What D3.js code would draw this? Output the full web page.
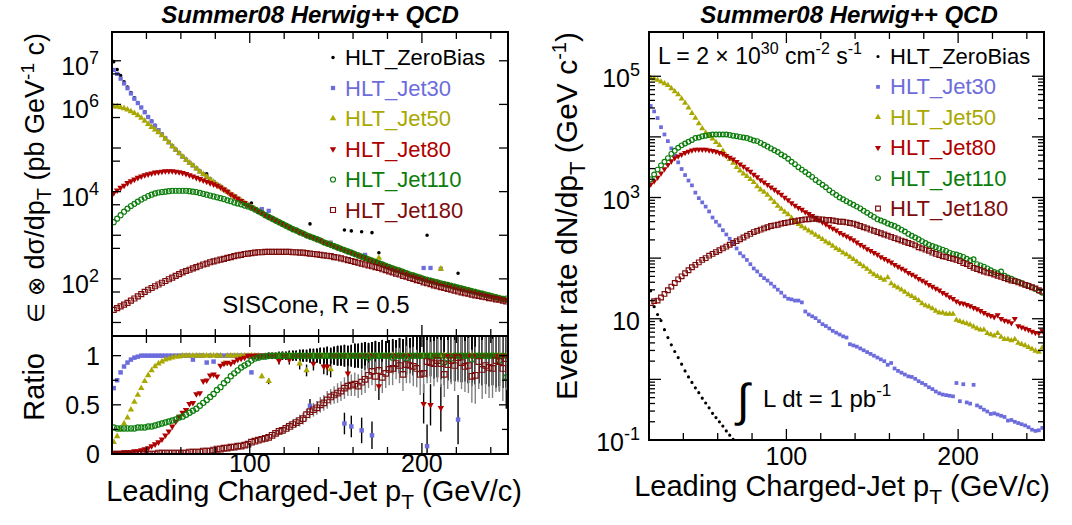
<!DOCTYPE html>
<html>
<head>
<meta charset="utf-8">
<title>Leading charged-jet pT - Summer08 Herwig++ QCD</title>
<script src="https://cdnjs.cloudflare.com/ajax/libs/d3/7.8.5/d3.min.js"></script>
<style>
    body { margin: 0; background: #ffffff; }
    svg text { font-family: "Liberation Sans", Arial, Helvetica, sans-serif; fill: #000; }
</style>
</head>
<body>
<div id="chart"></div>
<script>

// ---------------------------------------------------------------
// Data. Bins are 2 GeV/c wide.
// Log panels hold log10 of the value, null = empty bin.
// ---------------------------------------------------------------
var ptBins = [21,23,25,27,29,31,33,35,37,39,
    41,43,45,47,49,51,53,55,57,59,
    61,63,65,67,69,71,73,75,77,79,
    81,83,85,87,89,91,93,95,97,99,
    101,103,105,107,109,111,113,115,117,119,
    121,123,125,127,129,131,133,135,137,139,
    141,143,145,147,149,151,153,155,157,159,
    161,163,165,167,169,171,173,175,177,179,
    181,183,185,187,189,191,193,195,197,199,
    201,203,205,207,209,211,213,215,217,219,
    221,223,225,227,229,231,233,235,237,239,
    241,243,245,247,249];

var triggerNames = ["HLT_ZeroBias", "HLT_Jet30", "HLT_Jet50", "HLT_Jet80", "HLT_Jet110", "HLT_Jet180"];

// left, top: eff x dsigma/dpT  (log10 of pb GeV^-1 c)
var xsecZeroBias = [6.98,6.80,6.66,6.52,6.40,6.27,6.15,6.04,5.93,5.83,
    5.72,5.62,5.52,5.42,5.32,5.23,5.14,5.05,4.97,4.89,
    4.81,4.74,4.67,4.61,4.54,4.47,4.41,4.41,4.29,4.23,
    4.17,4.12,4.06,4.01,3.95,3.90,3.85,3.80,3.75,3.70,
    3.74,null,null,null,null,null,null,null,null,null,
    null,null,null,null,null,null,null,3.26,null,null,
    null,null,null,null,null,null,null,3.12,null,3.10,
    null,null,3.08,null,null,3.06,null,2.60,null,null,
    null,null,null,null,null,null,null,null,null,null,
    null,3.00,null,null,null,null,null,null,null,null,
    2.13,null,null,null,null,null,null,null,null,null,
    null,null,null,null,null];
var xsecJet30 = [6.79,6.70,6.59,6.48,6.37,6.25,6.13,6.03,5.93,5.82,
    5.71,5.61,5.51,5.41,5.31,5.22,5.13,5.04,4.96,4.88,
    4.80,4.73,4.66,4.60,4.53,4.46,4.40,4.34,4.28,4.22,
    4.16,4.11,4.05,4.00,3.94,3.89,3.84,3.79,3.74,3.70,
    3.64,3.60,3.55,3.60,3.46,3.56,3.38,3.34,3.30,3.26,
    3.22,3.18,3.14,3.11,3.07,3.04,3.00,2.97,2.94,2.91,
    2.88,2.84,2.81,2.83,2.75,2.72,2.69,2.66,2.63,2.60,
    2.57,2.54,2.51,2.55,2.45,2.42,2.39,2.36,2.33,2.30,
    2.27,2.24,2.21,2.19,2.16,2.13,2.10,2.08,2.05,2.03,
    2.25,1.98,2.25,1.94,1.92,2.23,1.88,1.86,1.84,1.82,
    1.80,1.78,1.76,1.74,1.72,1.70,1.68,1.66,1.64,1.62,
    1.60,1.58,1.56,1.54,1.52];
var xsecJet50 = [5.95,5.95,5.93,5.91,5.88,5.84,5.80,5.75,5.69,5.62,
    5.55,5.48,5.42,5.36,5.29,5.21,5.13,5.04,4.96,4.88,
    4.80,4.73,4.66,4.60,4.53,4.46,4.40,4.34,4.28,4.22,
    4.16,4.11,4.05,4.00,3.94,3.89,3.84,3.79,3.74,3.69,
    3.64,3.60,3.55,3.51,3.46,3.42,3.38,3.34,3.30,3.26,
    3.22,3.18,3.14,3.11,3.07,3.04,3.00,2.97,2.94,2.91,
    2.88,2.84,2.81,2.80,2.75,2.72,2.69,2.66,2.63,2.60,
    2.57,2.54,2.51,2.48,2.45,2.42,2.39,2.48,2.33,2.30,
    2.27,2.24,2.21,2.19,2.16,2.13,2.10,2.08,2.05,2.03,
    2.00,1.98,1.96,1.94,1.92,2.23,1.88,1.86,1.84,1.82,
    1.80,1.78,1.76,1.74,1.72,1.70,1.68,1.66,1.64,1.62,
    1.60,1.58,1.56,1.54,1.52];
var xsecJet80 = [3.97,4.03,4.09,4.14,4.20,4.24,4.28,4.32,4.35,4.38,
    4.40,4.42,4.44,4.45,4.46,4.47,4.47,4.47,4.46,4.45,
    4.43,4.41,4.38,4.35,4.32,4.29,4.26,4.23,4.20,4.17,
    4.14,4.10,4.05,4.00,3.94,3.89,3.84,3.79,3.74,3.69,
    3.64,3.60,3.55,3.51,3.46,3.42,3.38,3.34,3.30,3.26,
    3.22,3.18,3.14,3.11,3.07,3.04,3.00,2.97,2.94,2.91,
    2.88,2.84,2.81,2.78,2.75,2.72,2.69,2.66,2.63,2.60,
    2.57,2.54,2.51,2.48,2.45,2.42,2.39,2.36,2.33,2.30,
    2.27,2.24,2.21,2.19,2.16,2.13,2.10,2.08,2.05,2.03,
    2.00,1.98,1.96,1.94,1.92,1.90,1.88,1.86,1.84,1.82,
    1.80,1.78,1.76,1.74,1.72,1.70,1.68,1.66,1.64,1.62,
    1.60,1.58,1.56,1.54,1.52];
var xsecJet110 = [3.30,3.38,3.46,3.54,3.61,3.67,3.72,3.77,3.82,3.86,
    3.90,3.93,3.96,3.98,3.99,4.00,4.01,4.02,4.02,4.02,
    4.02,4.02,4.01,4.00,3.99,3.97,3.95,3.93,3.91,3.89,
    3.87,3.85,3.83,3.80,3.78,3.75,3.73,3.71,3.68,3.66,
    3.63,3.59,3.55,3.51,3.46,3.42,3.38,3.34,3.30,3.26,
    3.22,3.18,3.14,3.11,3.07,3.04,3.00,2.97,2.94,2.91,
    2.88,2.84,2.81,2.78,2.75,2.72,2.69,2.66,2.63,2.60,
    2.57,2.54,2.51,2.48,2.45,2.42,2.39,2.36,2.33,2.30,
    2.27,2.24,2.21,2.19,2.16,2.13,2.10,2.08,2.05,2.03,
    2.00,1.98,1.96,1.94,1.92,1.90,1.88,1.86,1.84,1.82,
    1.80,1.78,1.76,1.74,1.72,1.70,1.68,1.66,1.64,1.62,
    1.60,1.58,1.56,1.54,1.55];
var xsecJet180 = [1.29,1.33,1.37,1.41,1.45,1.50,1.55,1.60,1.65,1.70,
    1.75,1.79,1.83,1.87,1.91,1.95,1.99,2.03,2.07,2.11,
    2.15,2.18,2.21,2.24,2.27,2.30,2.33,2.35,2.38,2.40,
    2.42,2.44,2.46,2.48,2.50,2.52,2.54,2.55,2.57,2.58,
    2.59,2.60,2.61,2.61,2.62,2.62,2.62,2.62,2.62,2.62,
    2.62,2.62,2.61,2.61,2.60,2.60,2.59,2.58,2.57,2.56,
    2.55,2.54,2.53,2.52,2.50,2.49,2.47,2.45,2.43,2.41,
    2.39,2.37,2.35,2.33,2.31,2.29,2.27,2.25,2.22,2.20,
    2.17,2.15,2.12,2.10,2.07,2.05,2.02,2.00,1.97,1.95,
    1.92,1.90,1.88,1.85,1.83,1.81,1.79,1.77,1.75,1.73,
    1.71,1.69,1.67,1.66,1.64,1.62,1.61,1.59,1.58,1.56,
    1.55,1.53,1.52,1.50,1.48];

// left, bottom: ratio
var ratioJet30 = [0.67,0.75,0.83,0.89,0.93,0.96,0.98,0.99,1.00,1.00,
    1.00,1.00,1.00,1.00,1.00,1.00,1.00,1.00,1.00,1.00,
    1.00,1.00,1.00,0.96,1.00,1.00,1.00,0.93,1.00,0.94,
    1.00,1.00,1.00,1.00,1.00,1.00,1.00,1.00,1.00,1.00,
    0.83,1.00,1.00,1.00,1.00,1.00,1.00,1.00,1.00,1.00,
    1.00,1.00,1.00,1.00,1.00,1.00,1.00,0.49,1.00,1.00,
    1.00,1.00,1.00,1.00,1.00,1.00,1.00,0.31,1.00,0.28,
    1.00,1.00,0.24,1.00,1.00,0.19,1.00,1.00,1.00,1.00,
    1.00,1.00,1.00,1.00,1.00,1.00,1.00,1.00,1.00,1.00,
    1.00,0.08,1.00,1.00,1.00,1.00,1.00,1.00,1.00,1.00,
    0.35,1.00,1.00,1.00,1.00,1.00,1.00,1.00,1.00,1.00,
    1.00,1.00,1.00,1.00,1.00];
var ratioJet50 = [0.12,0.18,0.25,0.31,0.37,0.45,0.53,0.60,0.67,0.74,
    0.80,0.85,0.89,0.92,0.94,0.96,0.97,0.98,0.99,0.99,
    1.00,1.00,1.00,1.00,1.00,1.00,1.00,1.00,1.00,1.00,
    1.00,1.00,0.92,1.00,1.00,1.00,1.00,1.00,1.00,1.00,
    1.00,1.00,1.00,0.79,1.00,0.74,1.00,1.00,1.00,1.00,
    1.00,1.00,1.00,1.00,0.92,1.00,0.85,1.00,1.00,1.00,
    1.00,1.00,1.00,0.86,1.00,1.00,1.00,1.00,1.00,1.00,
    1.00,1.00,1.00,1.00,1.00,1.00,1.00,1.00,1.00,1.00,
    1.00,1.00,1.00,1.00,1.00,1.00,1.00,1.00,1.00,1.00,
    1.00,1.00,1.00,1.00,1.00,1.00,1.00,1.00,1.00,1.00,
    1.00,1.00,1.00,1.00,1.00,1.00,1.00,1.00,1.00,1.00,
    1.00,1.00,1.00,1.00,1.00];
var ratioJet80 = [0.01,0.01,0.01,0.02,0.02,0.02,0.03,0.03,0.04,0.05,
    0.06,0.08,0.10,0.12,0.15,0.19,0.23,0.28,0.33,0.38,
    0.42,0.45,0.51,0.52,0.61,0.62,0.74,0.75,0.80,0.81,
    0.79,0.90,0.92,0.93,0.92,0.94,0.96,0.97,0.98,1.00,
    1.00,1.00,1.00,1.00,1.00,1.00,1.00,1.00,0.95,1.00,
    1.00,0.96,1.00,1.00,1.00,1.00,1.00,1.00,0.92,1.00,
    1.00,0.89,0.89,1.00,1.00,1.00,1.00,1.00,0.82,1.00,
    1.00,1.00,1.00,1.00,1.00,1.00,1.00,0.69,1.00,1.00,
    1.00,1.00,1.00,1.00,1.00,1.00,1.00,1.00,1.00,1.00,
    0.51,1.00,0.50,1.00,1.00,0.47,1.00,1.00,1.00,1.00,
    1.00,1.00,1.00,1.00,1.00,1.00,1.00,1.00,1.00,1.00,
    1.00,1.00,1.00,1.00,1.00];
var ratioJet110 = [0.27,0.26,0.26,0.26,0.26,0.26,0.26,0.27,0.27,0.27,
    0.28,0.28,0.29,0.30,0.31,0.32,0.33,0.34,0.35,0.37,
    0.38,0.40,0.42,0.44,0.46,0.49,0.52,0.55,0.58,0.61,
    0.65,0.68,0.72,0.75,0.79,0.82,0.85,0.88,0.90,0.92,
    0.95,0.97,0.98,0.99,0.99,1.00,1.00,1.00,1.00,1.00,
    1.00,1.00,1.00,1.00,1.00,1.00,1.00,1.00,1.00,1.00,
    1.00,1.00,1.00,1.00,1.00,1.00,1.00,1.00,1.00,1.00,
    1.00,1.00,1.00,1.00,0.98,1.00,1.00,1.00,1.00,1.00,
    1.00,0.98,1.00,1.00,1.00,0.97,1.00,1.00,1.00,1.00,
    1.00,1.00,1.00,1.00,1.00,1.00,0.93,1.00,0.97,1.00,
    1.00,1.00,1.00,1.00,0.96,1.00,1.00,1.00,1.00,1.00,
    1.00,1.00,0.95,1.00,0.78];
var ratioJet180 = [0.00,0.00,0.00,0.00,0.00,0.00,0.00,0.00,0.00,0.00,
    0.00,0.00,0.00,0.01,0.01,0.01,0.01,0.01,0.01,0.01,
    0.01,0.01,0.02,0.02,0.02,0.02,0.03,0.03,0.03,0.04,
    0.05,0.05,0.06,0.06,0.07,0.07,0.08,0.08,0.09,0.10,
    0.12,0.13,0.14,0.15,0.16,0.17,0.19,0.21,0.23,0.24,
    0.26,0.28,0.30,0.32,0.34,0.36,0.40,0.43,0.45,0.47,
    0.50,0.52,0.55,0.58,0.60,0.62,0.64,0.67,0.69,0.70,
    0.71,0.69,0.73,0.76,0.80,0.84,0.79,0.85,0.78,0.82,
    0.86,0.87,0.92,0.90,0.81,0.91,0.90,0.89,0.87,0.81,
    0.82,0.94,0.93,0.92,0.95,0.92,0.81,0.91,0.95,0.90,
    0.98,0.93,0.89,0.90,0.79,0.80,0.94,0.86,0.90,0.88,
    0.87,0.95,0.94,0.87,0.97];
// half length of the ratio error bars
var ratioErr = [0,0,0,0,0,0,0,0,0,0,
    0,0,0,0,0,0,0,0,0,0,
    0,0,0,0,0,0,0,0,0,0,
    0,0,0,0,0,0,0,0,0,0,
    0.00,0.01,0.02,0.02,0.02,0.03,0.03,0.03,0.04,0.04,
    0.04,0.05,0.05,0.05,0.06,0.06,0.06,0.07,0.07,0.07,
    0.08,0.08,0.09,0.08,0.09,0.10,0.10,0.11,0.10,0.11,
    0.12,0.12,0.13,0.14,0.13,0.14,0.15,0.14,0.16,0.15,
    0.16,0.17,0.16,0.18,0.17,0.19,0.18,0.20,0.19,0.21,
    0.20,0.22,0.21,0.23,0.22,0.24,0.23,0.25,0.24,0.26,
    0.25,0.27,0.26,0.28,0.27,0.29,0.28,0.30,0.29,0.31,
    0.30,0.32,0.31,0.33,0.32];

// right: event rate dN/dpT  (log10 of GeV^-1 c)
var rateZeroBias = [1.46,1.20,1.07,0.97,0.82,0.69,0.57,0.46,0.36,0.25,
    0.14,0.04,-0.05,-0.14,-0.22,-0.31,-0.39,-0.47,-0.56,-0.63,
    -0.70,-0.77,-0.85,-0.92,-0.99,null,null,null,null,null,
    null,null,null,null,null,null,null,null,null,null,
    null,null,null,null,null,null,null,null,null,null,
    null,null,null,null,null,null,null,null,null,null,
    null,null,null,null,null,null,null,null,null,null,
    null,null,null,null,null,null,null,null,null,null,
    null,null,null,null,null,null,null,null,null,null,
    null,null,null,null,null,null,null,null,null,null,
    null,null,null,null,null,null,null,null,null,null,
    null,null,null,null,null];
var rateJet30 = [4.51,4.42,4.31,4.16,4.04,3.93,3.81,3.69,3.58,3.47,
    3.37,3.28,3.20,3.08,2.99,2.92,2.85,2.77,2.67,2.60,
    2.54,2.46,2.39,2.32,2.25,2.16,2.08,2.03,1.97,1.90,
    1.83,1.78,1.72,1.67,1.63,1.58,1.53,1.48,1.43,1.37,
    1.33,1.32,1.30,1.30,1.27,1.12,1.07,1.04,1.01,0.96,
    0.91,0.88,0.84,0.80,0.77,0.74,0.71,0.69,0.58,0.56,
    0.54,0.51,0.48,0.45,0.42,0.39,0.36,0.33,0.30,0.24,
    0.27,0.18,0.14,0.11,0.08,0.05,0.04,0.01,-0.03,-0.06,
    -0.09,-0.13,-0.16,-0.20,-0.23,-0.25,-0.26,-0.27,-0.28,-0.06,
    -0.36,-0.08,-0.38,-0.40,-0.09,-0.43,-0.46,-0.50,-0.53,-0.57,
    -0.56,-0.58,-0.60,-0.62,-0.68,-0.67,-0.70,-0.72,-0.74,-0.76,
    -0.79,-0.83,-0.85,-0.84,-0.80];
var rateJet50 = [4.97,4.96,4.94,4.91,4.88,4.85,4.80,4.75,4.70,4.63,
    4.56,4.48,4.39,4.31,4.22,4.14,4.07,4.02,3.97,3.91,
    3.86,3.77,3.69,3.63,3.57,3.50,3.44,3.39,3.35,3.30,
    3.25,3.18,3.13,3.09,3.04,2.98,2.92,2.86,2.81,2.76,
    2.72,2.66,2.61,2.56,2.52,2.49,2.45,2.42,2.38,2.35,
    2.31,2.27,2.24,2.20,2.16,2.13,2.09,2.06,2.02,1.98,
    1.94,1.90,1.86,1.82,1.77,1.73,1.70,1.67,1.64,1.68,
    1.58,1.54,1.51,1.48,1.44,1.40,1.37,1.34,1.30,1.25,
    1.22,1.20,1.17,1.13,1.10,1.10,1.08,1.08,1.08,0.98,
    0.96,0.94,0.92,0.90,0.87,0.84,0.82,0.82,0.76,0.74,
    0.72,0.76,0.70,0.66,0.66,0.64,0.66,0.60,0.58,0.56,
    0.53,0.50,0.47,0.45,0.52];
var rateJet80 = [3.22,3.27,3.33,3.40,3.47,3.54,3.60,3.65,3.68,3.71,
    3.74,3.76,3.78,3.79,3.79,3.79,3.79,3.78,3.77,3.76,
    3.74,3.72,3.69,3.66,3.63,3.59,3.55,3.51,3.47,3.43,
    3.38,3.34,3.29,3.25,3.21,3.17,3.13,3.09,3.05,3.00,
    2.96,2.91,2.87,2.83,2.80,2.76,2.73,2.70,2.66,2.63,
    2.59,2.56,2.52,2.49,2.46,2.42,2.39,2.36,2.33,2.30,
    2.26,2.22,2.19,2.15,2.12,2.09,2.06,2.02,1.99,1.96,
    1.93,1.89,1.86,1.83,1.80,1.76,1.73,1.70,1.66,1.63,
    1.60,1.56,1.53,1.50,1.47,1.43,1.40,1.36,1.33,1.29,
    1.26,1.25,1.23,1.21,1.18,1.16,1.13,1.10,1.07,1.05,
    1.03,1.06,1.00,0.97,0.96,0.93,1.00,0.88,0.86,0.84,
    0.82,0.79,0.77,0.76,0.80];
var rateJet110 = [3.30,3.38,3.46,3.53,3.59,3.65,3.72,3.77,3.82,3.86,
    3.89,3.92,3.95,3.98,3.99,4.01,4.02,4.03,4.04,4.04,
    4.04,4.04,4.04,4.03,4.02,4.01,4.00,3.99,3.98,3.96,
    3.94,3.93,3.90,3.87,3.84,3.81,3.78,3.75,3.71,3.68,
    3.64,3.59,3.55,3.50,3.46,3.42,3.38,3.34,3.29,3.25,
    3.21,3.17,3.12,3.08,3.04,3.00,2.97,2.94,2.91,2.88,
    2.85,2.82,2.78,2.75,2.71,2.68,2.64,2.62,2.60,2.57,
    2.55,2.53,2.50,2.47,2.44,2.40,2.37,2.34,2.31,2.28,
    2.25,2.22,2.20,2.18,2.16,2.14,2.12,2.09,2.07,2.06,
    2.04,2.02,1.99,1.96,1.98,1.90,1.88,1.86,1.83,1.80,
    1.77,1.75,1.78,1.71,1.68,1.66,1.63,1.61,1.59,1.56,
    1.55,1.52,1.49,1.46,1.43];
var rateJet180 = [1.26,1.29,1.30,1.35,1.41,1.47,1.53,1.59,1.65,1.70,
    1.75,1.80,1.85,1.89,1.93,1.97,2.00,2.04,2.07,2.10,
    2.13,2.16,2.19,2.22,2.25,2.28,2.31,2.34,2.37,2.40,
    2.43,2.45,2.47,2.49,2.51,2.53,2.54,2.55,2.57,2.58,
    2.59,2.60,2.61,2.62,2.63,2.64,2.64,2.65,2.65,2.64,
    2.64,2.63,2.63,2.62,2.61,2.60,2.60,2.59,2.58,2.57,
    2.55,2.53,2.51,2.49,2.47,2.45,2.43,2.41,2.39,2.37,
    2.35,2.33,2.31,2.29,2.27,2.25,2.23,2.21,2.18,2.16,
    2.14,2.12,2.09,2.07,2.05,2.03,2.02,2.00,1.99,1.97,
    1.95,1.92,1.90,1.87,1.84,1.82,1.80,1.78,1.76,1.75,
    1.73,1.71,1.69,1.67,1.65,1.63,1.62,1.60,1.58,1.56,
    1.54,1.52,1.50,1.47,1.45];

// axis ticks and labels
var xTickValues = [20,40,60,80,100,120,140,160,180,200,220,240];
var xTickLabels = [100, 200];
var xsecDecades = [1e1,1e2,1e3,1e4,1e5,1e6,1e7];
var xsecHalfDecades = [5e1,5e2,5e3,5e4,5e5,5e6];
var xsecTickExps = [7, 6, 4, 2];
var ratioTickValues = [0, 0.25, 0.5, 0.75, 1];
var ratioTickLabels = [0, 0.5, 1];
var rateDecades = [1e-1,1e0,1e1,1e2,1e3,1e4,1e5];
var rateTickExps = [5, 3, 1, -1];


// ---------------------------------------------------------------
// Styles
// ---------------------------------------------------------------
var triggerColors = ["#000000", "#6c6cdd", "#a8a800", "#b00000", "#0b7d0b", "#7d0c0c"];
var triggerShapes = ["dot", "square", "triangle", "triangleDown", "circle", "openSquare"];

var sizesLeft  = { dot: 10, square: 18, triangle: 18, triangleDown: 18, circle: 20, openSquare: 25 };
var sizesRatio = { dot: 10, square: 20, triangle: 18, triangleDown: 18, circle: 22, openSquare: 31 };
var sizesRight = { dot: 8,  square: 14, triangle: 16, triangleDown: 16, circle: 18, openSquare: 22 };

var fromLog = function(v) { return Math.pow(10, v); };
var asIs = function(v) { return v; };

var svg = d3.select("#chart").append("svg")
    .attr("width", 1072)
    .attr("height", 525)
    .style("display", "block");

svg.append("rect")
    .attr("width", 1072)
    .attr("height", 525)
    .attr("fill", "#ffffff");


// ---------------------------------------------------------------
// Helpers
// ---------------------------------------------------------------
function addMarkers(g, pts, shape, color, sizes) {
    var open = (shape === "circle" || shape === "openSquare");
    var type = d3.symbolCircle;
    if (shape === "square" || shape === "openSquare") type = d3.symbolSquare;
    if (shape === "triangle" || shape === "triangleDown") type = d3.symbolTriangle;
    var path = d3.symbol().type(type).size(sizes[shape])();

    g.selectAll(null)
        .data(pts)
        .enter().append("path")
        .attr("d", path)
        .attr("transform", function(d) {
            return "translate(" + d.x + "," + d.y + ")" + (shape === "triangleDown" ? " rotate(180)" : "");
        })
        .attr("fill", open ? "none" : color)
        .attr("stroke", open ? color : "none")
        .attr("stroke-width", open ? 1.15 : 0);
}

function seriesPoints(values, x, y, conv) {
    var pts = [];
    values.forEach(function(v, i) {
        if (v === null) return;
        pts.push({ x: x(ptBins[i]), y: y(conv(v)), v: v, i: i });
    });
    return pts;
}

function frame(g, x0, y0, x1, y1) {
    g.append("rect")
        .attr("x", x0)
        .attr("y", y0)
        .attr("width", x1 - x0)
        .attr("height", y1 - y0)
        .attr("fill", "none")
        .attr("stroke", "#000")
        .attr("stroke-width", 2);
}

function tick(g, x1, y1, x2, y2) {
    g.append("line")
        .attr("x1", x1).attr("y1", y1)
        .attr("x2", x2).attr("y2", y2)
        .attr("stroke", "#000")
        .attr("stroke-width", 1.3);
}

function xTicks(g, x, yTop, yBot) {
    xTickValues.forEach(function(t) {
        var len = xTickLabels.indexOf(t) >= 0 ? 11 : 7;
        tick(g, x(t), yBot, x(t), yBot - len);
        tick(g, x(t), yTop, x(t), yTop + len);
    });
}

function powerLabel(g, x, y, exp) {
    var t = g.append("text")
        .attr("x", x)
        .attr("y", y)
        .attr("text-anchor", "end")
        .style("font-size", "25px");
    t.append("tspan").text("10");
    if (exp !== 1) {
        t.append("tspan")
            .attr("dy", -11)
            .style("font-size", "18px")
            .text(exp < 0 ? "-" + (-exp) : exp);
    }
}

function clipRect(id, x0, y0, x1, y1) {
    svg.append("clipPath")
        .attr("id", id)
        .append("rect")
        .attr("x", x0).attr("y", y0)
        .attr("width", x1 - x0).attr("height", y1 - y0);
}

function legend(g, x, y0, dy, sizes) {
    triggerNames.forEach(function(name, k) {
        var yb = y0 + k * dy;
        addMarkers(g, [{ x: x, y: yb - 7.5 }], triggerShapes[k], triggerColors[k], sizes);
        g.append("text")
            .attr("x", x + 12)
            .attr("y", yb)
            .style("font-size", "22px")
            .style("fill", triggerColors[k])
            .text(name);
    });
}

function ptTitle(g, xEnd, y) {
    var t = g.append("text")
        .attr("x", xEnd)
        .attr("y", y)
        .attr("text-anchor", "end")
        .style("font-size", "29px");
    t.append("tspan").text("Leading Charged-Jet p");
    t.append("tspan").attr("dy", 8).style("font-size", "21px").text("T");
    t.append("tspan").attr("dy", -8).text(" (GeV/c)");
}

function panelTitle(g, xMid) {
    g.append("text")
        .attr("x", xMid)
        .attr("y", 23)
        .attr("text-anchor", "middle")
        .style("font-size", "24px")
        .style("font-weight", "bold")
        .style("font-style", "italic")
        .text("Summer08 Herwig++ QCD");
}


// ---------------------------------------------------------------
// Left: cross section (top) and ratio (bottom)
// ---------------------------------------------------------------
var L = { x0: 112, x1: 508, y0: 32, ymid: 336, y1: 454 };

var xLeft = d3.scaleLinear()
    .domain([20, 250])
    .range([L.x0, L.x1]);

var yXsec = d3.scaleLog()
    .domain([Math.pow(10, 0.69), Math.pow(10, 7.66)])
    .range([L.ymid, L.y0]);

var yRatio = d3.scaleLinear()
    .domain([0, 1.2])
    .range([L.y1, L.ymid]);

var gLeft = svg.append("g");

panelTitle(gLeft, 310);

clipRect("clipXsec", L.x0, L.y0, L.x1, L.ymid);
clipRect("clipRatio", L.x0, L.ymid, L.x1, L.y1);

var xsecSeries = [xsecZeroBias, xsecJet30, xsecJet50, xsecJet80, xsecJet110, xsecJet180];
var gXsec = gLeft.append("g").attr("clip-path", "url(#clipXsec)");
xsecSeries.forEach(function(vals, k) {
    addMarkers(gXsec, seriesPoints(vals, xLeft, yXsec, fromLog), triggerShapes[k], triggerColors[k], sizesLeft);
});

// ratio: error bars first, then markers
var ratioSeries = [null, ratioJet30, ratioJet50, ratioJet80, ratioJet110, ratioJet180];
var gRatio = gLeft.append("g").attr("clip-path", "url(#clipRatio)");
ratioSeries.forEach(function(vals, k) {
    if (!vals) return;
    var pts = seriesPoints(vals, xLeft, yRatio, asIs);
    gRatio.selectAll(null)
        .data(pts.filter(function(d) { return ratioErr[d.i] > 0; }))
        .enter().append("line")
        .attr("x1", function(d) { return d.x; })
        .attr("x2", function(d) { return d.x; })
        .attr("y1", function(d) { return yRatio(d.v - ratioErr[d.i]); })
        .attr("y2", function(d) { return yRatio(d.v + ratioErr[d.i]); })
        .attr("stroke", k === 5 ? "#808080" : "#000")
        .attr("stroke-width", 1.4);
});
ratioSeries.forEach(function(vals, k) {
    if (!vals) return;
    addMarkers(gRatio, seriesPoints(vals, xLeft, yRatio, asIs), triggerShapes[k], triggerColors[k], sizesRatio);
});

frame(gLeft, L.x0, L.y0, L.x1, L.ymid);
frame(gLeft, L.x0, L.ymid, L.x1, L.y1);
xTicks(gLeft, xLeft, L.y0, L.ymid);
xTicks(gLeft, xLeft, L.ymid, L.y1);

xsecDecades.forEach(function(v) {
    tick(gLeft, L.x0, yXsec(v), L.x0 + 9, yXsec(v));
    tick(gLeft, L.x1, yXsec(v), L.x1 - 9, yXsec(v));
});
xsecHalfDecades.forEach(function(v) {
    tick(gLeft, L.x0, yXsec(v), L.x0 + 8, yXsec(v));
});
xsecTickExps.forEach(function(e) {
    powerLabel(gLeft, 99, yXsec(Math.pow(10, e)) + 14, e);
});

ratioTickValues.forEach(function(v) {
    var len = ratioTickLabels.indexOf(v) >= 0 ? 9 : 6;
    tick(gLeft, L.x0, yRatio(v), L.x0 + len, yRatio(v));
    tick(gLeft, L.x1, yRatio(v), L.x1 - len, yRatio(v));
});
ratioTickLabels.forEach(function(v) {
    gLeft.append("text")
        .attr("x", 100)
        .attr("y", yRatio(v) + 9)
        .attr("text-anchor", "end")
        .style("font-size", "25px")
        .text(v);
});

xTickLabels.forEach(function(v) {
    gLeft.append("text")
        .attr("x", xLeft(v))
        .attr("y", 472)
        .attr("text-anchor", "middle")
        .style("font-size", "25px")
        .text(v);
});

legend(gLeft, 333, 65, 30.5, sizesLeft);

gLeft.append("text")
    .attr("x", 316)
    .attr("y", 313)
    .attr("text-anchor", "middle")
    .style("font-size", "24px")
    .text("SISCone, R = 0.5");

// axis titles
ptTitle(gLeft, 522, 501);

var yTitleL = gLeft.append("text")
    .attr("transform", "translate(44,33) rotate(-90)")
    .attr("text-anchor", "end")
    .style("font-size", "27px");
yTitleL.append("tspan").style("font-size", "23px").text("\u2208");
yTitleL.append("tspan").text(" ");
yTitleL.append("tspan").style("font-size", "23px").text("\u2297");
yTitleL.append("tspan").text(" d\u03c3/dp");
yTitleL.append("tspan").attr("dy", 7).style("font-size", "20px").text("T");
yTitleL.append("tspan").attr("dy", -7).text("  (pb GeV");
yTitleL.append("tspan").attr("dy", -10).style("font-size", "19px").text("-1");
yTitleL.append("tspan").attr("dy", 10).text(" c)");

gLeft.append("text")
    .attr("transform", "translate(44,353) rotate(-90)")
    .attr("text-anchor", "end")
    .style("font-size", "29px")
    .text("Ratio");


// ---------------------------------------------------------------
// Right: event rate
// ---------------------------------------------------------------
var R = { x0: 649, x1: 1044, y0: 32, y1: 440 };

var xRight = d3.scaleLinear()
    .domain([20, 250])
    .range([R.x0, R.x1]);

var yRate = d3.scaleLog()
    .domain([0.1, Math.pow(10, 5.73)])
    .range([R.y1, R.y0]);

var gRight = svg.append("g");

panelTitle(gRight, 849);

clipRect("clipRate", R.x0, R.y0, R.x1, R.y1);

var rateSeries = [rateZeroBias, rateJet30, rateJet50, rateJet80, rateJet110, rateJet180];
var gRate = gRight.append("g").attr("clip-path", "url(#clipRate)");
rateSeries.forEach(function(vals, k) {
    addMarkers(gRate, seriesPoints(vals, xRight, yRate, fromLog), triggerShapes[k], triggerColors[k], sizesRight);
});

frame(gRight, R.x0, R.y0, R.x1, R.y1);
xTicks(gRight, xRight, R.y0, R.y1);

rateDecades.forEach(function(v) {
    tick(gRight, R.x0, yRate(v), R.x0 + 12, yRate(v));
    tick(gRight, R.x1, yRate(v), R.x1 - 12, yRate(v));
    if (v >= 1e5) return;
    for (var m = 2; m <= 9; m++) {
        var ym = yRate(v * m);
        if (ym < R.y0) break;
        tick(gRight, R.x0, ym, R.x0 + 6, ym);
        tick(gRight, R.x1, ym, R.x1 - 6, ym);
    }
});
rateTickExps.forEach(function(e) {
    powerLabel(gRight, 640, yRate(Math.pow(10, e)) + 11, e);
});

xTickLabels.forEach(function(v) {
    gRight.append("text")
        .attr("x", xRight(v))
        .attr("y", 465)
        .attr("text-anchor", "middle")
        .style("font-size", "25px")
        .text(v);
});

legend(gRight, 878, 64, 30.4, sizesRight);

var lumi = gRight.append("text")
    .attr("x", 658)
    .attr("y", 64)
    .style("font-size", "23px");
lumi.append("tspan").text("L = 2 \u00d7 10");
lumi.append("tspan").attr("dy", -10).style("font-size", "16px").text("30");
lumi.append("tspan").attr("dy", 10).text(" cm");
lumi.append("tspan").attr("dy", -10).style("font-size", "16px").text("-2");
lumi.append("tspan").attr("dy", 10).text(" s");
lumi.append("tspan").attr("dy", -10).style("font-size", "16px").text("-1");

gRight.append("text")
    .attr("x", 737)
    .attr("y", 416)
    .style("font-size", "46px")
    .text("\u222b");
var intLumi = gRight.append("text")
    .attr("x", 763)
    .attr("y", 407)
    .style("font-size", "24px");
intLumi.append("tspan").text("L dt = 1 pb");
intLumi.append("tspan").attr("dy", -11).style("font-size", "17px").text("-1");

ptTitle(gRight, 1050, 496);

var yTitleR = gRight.append("text")
    .attr("transform", "translate(577,32) rotate(-90)")
    .attr("text-anchor", "end")
    .style("font-size", "30px");
yTitleR.append("tspan").text("Event rate dN/dp");
yTitleR.append("tspan").attr("dy", 8).style("font-size", "22px").text("T");
yTitleR.append("tspan").attr("dy", -8).text("  (GeV c");
yTitleR.append("tspan").attr("dy", -11).style("font-size", "20px").text("-1");
yTitleR.append("tspan").attr("dy", 11).text(")");

</script>
</body>
</html>
